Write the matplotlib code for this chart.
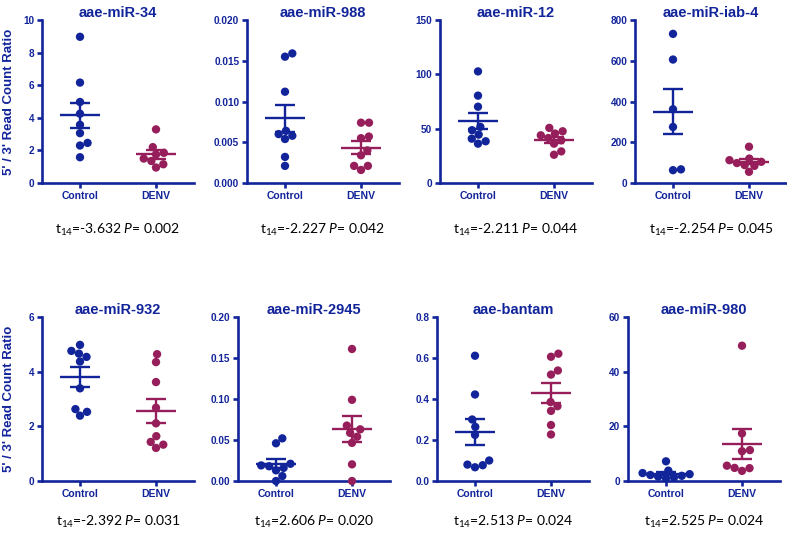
import numpy as np
import matplotlib
matplotlib.use("Agg")
import matplotlib.pyplot as plt
from matplotlib.ticker import FormatStrFormatter, MultipleLocator

# ---- data ----
titles = ["aae-miR-34", "aae-miR-988", "aae-miR-12", "aae-miR-iab-4",
          "aae-miR-932", "aae-miR-2945", "aae-bantam", "aae-miR-980"]
groups = ["Control", "DENV"]

control = [
    [8.97, 6.16, 4.97, 4.25, 3.57, 3.06, 2.46, 2.30, 1.58],
    [0.0159, 0.0155, 0.0112, 0.0064, 0.0060, 0.0058, 0.0054, 0.0032, 0.0021],
    [102.7, 80.4, 70.2, 51.7, 48.6, 44.5, 40.8, 38.4, 36.2],
    [732, 606, 362, 275, 67, 63],
    [4.98, 4.76, 4.66, 4.54, 4.37, 3.39, 2.63, 2.53, 2.39],
    [0.052, 0.046, 0.021, 0.019, 0.018, 0.016, 0.013, 0.006, 0.0],
    [0.611, 0.422, 0.30, 0.264, 0.225, 0.10, 0.08, 0.077, 0.067],
    [7.2, 3.8, 2.9, 2.5, 2.2, 1.9, 1.6, 1.3, 1.0],
]
denv = [
    [3.29, 2.20, 1.85, 1.75, 1.50, 1.35, 1.15, 0.95],
    [0.0074, 0.0074, 0.0057, 0.0055, 0.0040, 0.0034, 0.0021, 0.0021, 0.0016],
    [50.7, 47.6, 45.5, 43.9, 41.4, 39.3, 36.2, 29.1, 26.0],
    [178, 120, 112, 104, 98, 88, 84, 55],
    [4.64, 4.35, 3.62, 2.68, 2.11, 1.64, 1.43, 1.33, 1.21],
    [0.161, 0.099, 0.0676, 0.063, 0.0587, 0.054, 0.0465, 0.0203, 0.0],
    [0.621, 0.606, 0.539, 0.519, 0.385, 0.365, 0.342, 0.273, 0.227],
    [49.5, 17.4, 11.3, 10.9, 5.6, 4.8, 4.7, 3.7],
]

ymax = [10, 0.020, 150, 800, 6, 0.20, 0.8, 60]
ystep = [2, 0.005, 50, 200, 2, 0.05, 0.2, 20]
yfmt = ["%d", "%.3f", "%d", "%d", "%d", "%.2f", "%.1f", "%d"]

t_values = ["-3.632", "-2.227", "-2.211", "-2.254", "-2.392", "2.606", "2.513", "2.525"]
p_values = ["0.002", "0.042", "0.044", "0.045", "0.031", "0.020", "0.024", "0.024"]

# ---- style ----
BLUE = "#12249a"
RED = "#961e5a"
W, H = 787, 534
plt.rcParams["font.family"] = ["Liberation Sans", "DejaVu Sans"]
plt.rcParams["mathtext.fontset"] = "custom"
plt.rcParams["mathtext.rm"] = "Lato"
plt.rcParams["mathtext.it"] = "Lato:italic"

# axes placement in pixels
lefts = [42, 247, 440, 635, 42, 238, 437, 628]
row_top = [20, 317]
row_bot = [183, 481]
ax_w = 152


def swarm(ax, x0, values, d=8.0):
    """Beeswarm x positions, computed in pixel space."""
    pts = ax.transData.transform(np.column_stack([np.full(len(values), x0), values]))
    ypx = pts[:, 1]
    placed = []
    offs = np.zeros(len(values))
    for i in np.argsort(ypx):
        y = ypx[i]
        cands = [0.0]
        for px, py in placed:
            dy = abs(y - py)
            if dy < d:
                dx = np.sqrt(d * d - dy * dy)
                cands += [px + dx, px - dx]
        cands.sort(key=abs)
        c = cands[-1]
        for c in cands:
            if all((c - px) ** 2 + (y - py) ** 2 >= d * d - 1e-6 for px, py in placed):
                break
        offs[i] = c
        placed.append((c, y))
    unit = ax.transData.transform((1, 0))[0] - ax.transData.transform((0, 0))[0]
    return x0 + offs / unit


fig = plt.figure(figsize=(W / 100, H / 100), dpi=100)

for k in range(8):
    row = k // 4
    top, bot = row_top[row], row_bot[row]
    ax = fig.add_axes([lefts[k] / W, 1 - bot / H, ax_w / W, (bot - top) / H])
    ax.set_xlim(0.5, 2.5)
    ax.set_ylim(0, ymax[k])

    for gi, (vals, col) in enumerate([(control[k], BLUE), (denv[k], RED)]):
        x0 = gi + 1
        v = np.asarray(vals, dtype=float)
        xs = swarm(ax, x0, v)
        ax.scatter(xs, v, s=36, color=col, edgecolor="none", zorder=3, clip_on=False)
        m = v.mean()
        sem = v.std(ddof=1) / np.sqrt(len(v))
        ax.hlines(m, x0 - 0.26, x0 + 0.26, color=col, lw=1.7, zorder=4)
        ax.hlines([m - sem, m + sem], x0 - 0.13, x0 + 0.13, color=col, lw=1.7, zorder=4)
        ax.vlines(x0, m - sem, m + sem, color=col, lw=1.7, zorder=4)

    for s in ["top", "right"]:
        ax.spines[s].set_visible(False)
    for s in ["left", "bottom"]:
        ax.spines[s].set_color(BLUE)
        ax.spines[s].set_linewidth(1.9)
    ax.spines["left"].set_capstyle("projecting")
    ax.patch.set_alpha(0)

    ax.set_xticks([1, 2])
    ax.set_xticklabels(groups)
    ax.yaxis.set_major_locator(MultipleLocator(ystep[k]))
    ax.yaxis.set_major_formatter(FormatStrFormatter(yfmt[k]))
    ax.tick_params(colors=BLUE, width=1.9, length=3.5, labelsize=7.2)
    ax.tick_params(axis="x", labelsize=7.5, pad=2.5)
    ax.tick_params(axis="y", pad=2)
    for lab in ax.get_xticklabels() + ax.get_yticklabels():
        lab.set_fontweight("bold")
        lab.set_color(BLUE)

    ax.set_title(titles[k], color=BLUE, fontsize=10.5, fontweight="bold", pad=2)

    ty = [0.569, 0.0225][row]
    cx = (lefts[k] + ax_w / 2) / W
    fig.text(cx, ty, r"t$_{14}$=" + t_values[k] + r" $\mathit{P}$= " + p_values[k],
             ha="center", va="center", fontsize=10, family="Lato", color="black")

for yc in [(20 + 183) / 2, (317 + 481) / 2]:
    fig.text(9 / W, 1 - yc / H, "5' / 3' Read Count Ratio", rotation=90,
             ha="center", va="center", fontsize=9.5, fontweight="bold", color=BLUE)

fig.savefig("out.png", dpi=100)
